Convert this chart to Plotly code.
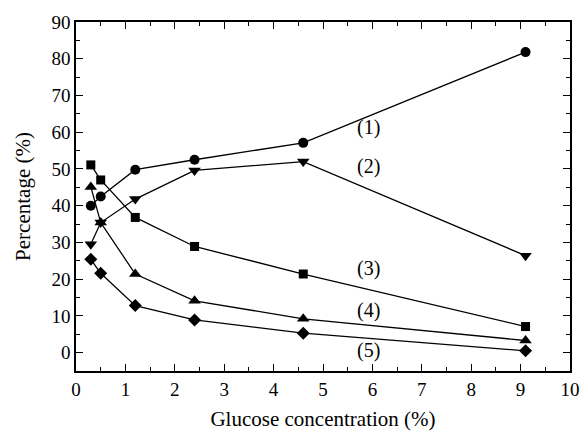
import plotly.graph_objects as go

glucose = [0.3, 0.5, 1.2, 2.4, 4.6, 9.1]
s1 = [40.0, 42.5, 49.8, 52.5, 57.1, 81.8]
s2 = [29.5, 35.4, 41.8, 49.6, 52.0, 26.4]
s3 = [51.1, 47.0, 36.8, 28.9, 21.4, 7.1]
s4 = [45.1, 35.4, 21.4, 14.1, 9.2, 3.3]
s5 = [25.4, 21.6, 12.8, 8.9, 5.3, 0.5]

series = [s1, s2, s3, s4, s5]
symbols = ["circle", "triangle-down", "square", "triangle-up", "diamond"]
sizes = [10, 11, 9, 11, 10]

labels = ["(1)", "(2)", "(3)", "(4)", "(5)"]
label_x = [5.92, 5.92, 5.92, 5.92, 5.92]
label_y = [61.3, 50.7, 23.0, 11.6, 0.7]

FONT = "Liberation Serif"

fig = go.Figure()
for ys, sym, sz in zip(series, symbols, sizes):
    fig.add_trace(go.Scatter(
        x=glucose, y=ys, mode="lines+markers",
        line=dict(color="black", width=1.3),
        marker=dict(symbol=sym, size=sz, color="black"),
        showlegend=False,
    ))

for t, lx, ly in zip(labels, label_x, label_y):
    fig.add_annotation(x=lx, y=ly, text=t, showarrow=False,
                       font=dict(family=FONT, size=20, color="black"))

axis_common = dict(
    showline=True, linecolor="black", linewidth=1.5, mirror="ticks",
    ticks="inside", ticklen=7, tickwidth=1.2, tickcolor="black",
    showgrid=False, zeroline=False, automargin=False,
    tickfont=dict(family=FONT, size=19, color="black"),
)

fig.update_xaxes(range=[0, 10], tick0=0, dtick=1,
                 minor=dict(ticks="inside", dtick=0.5, ticklen=4, tickcolor="black", tickwidth=1.2),
                 title=dict(text="Glucose concentration (%)", font=dict(family=FONT, size=21, color="black"), standoff=13),
                 **axis_common)
fig.update_yaxes(range=[-5, 90], tick0=0, dtick=10,
                 minor=dict(ticks="inside", dtick=5, tick0=0, ticklen=4, tickcolor="black", tickwidth=1.2),
                 title=dict(text="Percentage (%)", font=dict(family=FONT, size=21, color="black"), standoff=15),
                 **axis_common)

fig.update_layout(
    width=580, height=431,
    margin=dict(l=76, r=10, t=22, b=60),
    paper_bgcolor="white", plot_bgcolor="white",
    font=dict(family=FONT, color="black"),
)

fig.write_html("out.html",
               config={"displayModeBar": False},
               post_script="document.body.style.margin='0px';document.body.style.overflow='hidden';")
